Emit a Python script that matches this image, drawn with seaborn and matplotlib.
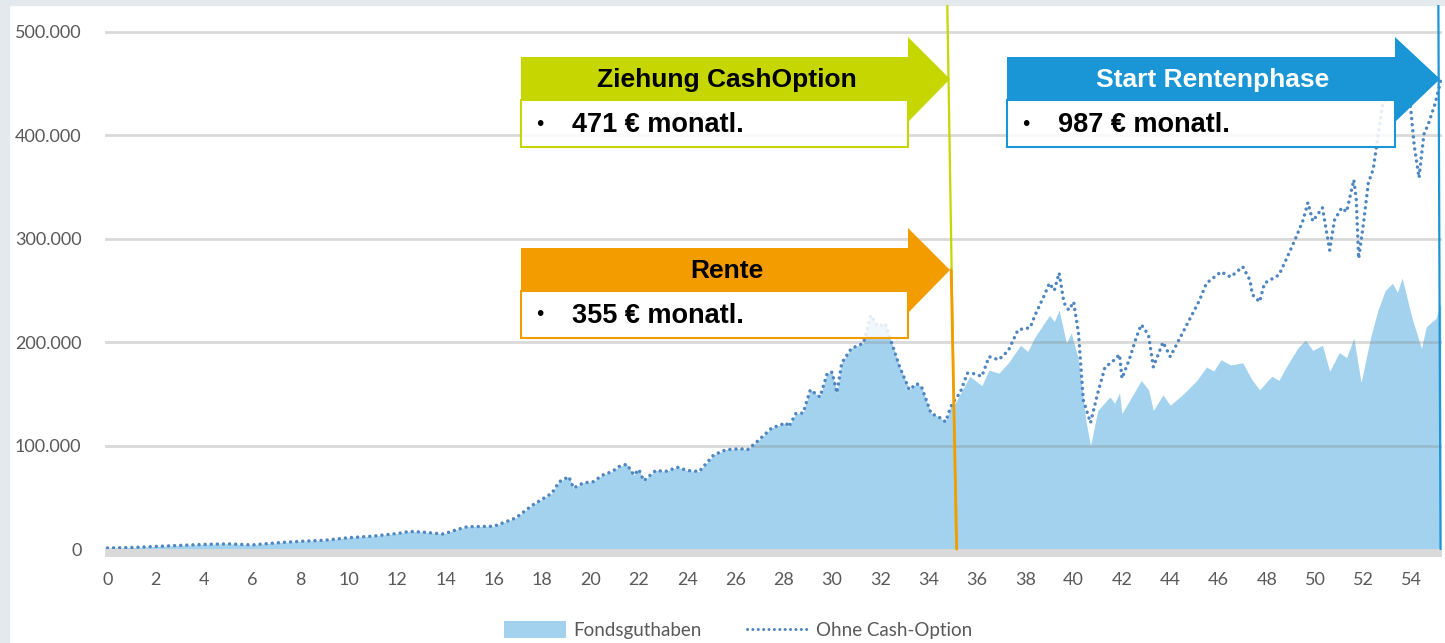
import numpy as np
import pandas as pd
import matplotlib
matplotlib.use("Agg")
import matplotlib.pyplot as plt
import seaborn as sns
from matplotlib.patches import Polygon, Rectangle, Patch
from matplotlib.lines import Line2D

# values in thousand EUR
# up to year 35 both series run together
early_years = [0, 1, 2, 3, 4, 5, 6, 7, 8, 9, 10, 11, 12, 12.5, 13, 13.9, 14.5, 14.9, 16,
               16.9, 17.6, 18.4, 18.7, 19.1, 19.3, 19.7, 20.1, 20.5, 20.9, 21.2, 21.5, 21.8,
               22.0, 22.2, 22.7, 23.1, 23.6, 24.0, 24.5, 25.1, 25.6, 26.2, 26.5, 26.9, 27.5,
               28.1, 28.2, 28.5, 28.8, 29.1, 29.5, 29.8, 30.0, 30.2, 30.4, 30.8, 31.3, 31.6,
               31.9, 32.2, 32.5, 32.8, 33.2, 33.5, 33.7, 34.1, 34.4, 34.7, 34.9]
early_vals = [1, 1.5, 2.5, 3.5, 4.5, 5, 4, 6, 7.5, 8.5, 11, 12.5, 15, 17, 16.5, 14.5, 19, 21.6, 22,
              30, 42.5, 54, 65, 70, 59, 64, 65, 71.5, 75, 80, 82, 71.5,
              77, 66, 76, 75, 79, 76, 75, 91, 96, 97, 96, 104, 117,
              122, 118, 131, 131.5, 154, 147, 170, 171, 151, 180, 194, 199, 226,
              215, 218, 197, 176, 154, 160, 157, 131, 128, 123, 137]

# Fondsguthaben after the cash option
fonds_years = [35.1, 35.3, 35.7, 36.2, 36.5, 36.9, 37.3, 37.8, 38.1, 38.4, 39.0, 39.2, 39.4,
               39.7, 39.9, 40.2, 40.5, 40.7, 41.0, 41.5, 41.7, 41.9, 42.0, 42.4, 42.8, 43.1,
               43.3, 43.7, 44.0, 44.5, 45.1, 45.5, 45.8, 46.1, 46.5, 47.0, 47.4, 47.7, 48.2,
               48.5, 48.8, 49.3, 49.6, 49.9, 50.3, 50.6, 51.0, 51.3, 51.6, 51.9, 52.3, 52.6,
               52.9, 53.2, 53.4, 53.6, 54.0, 54.4, 54.6, 55.0, 55.2]
fonds_vals = [141, 150, 167, 158, 173, 170, 180, 197, 191, 205, 226, 220, 231,
              199, 209, 183, 125, 100, 134, 147, 141, 151, 131, 147, 163, 154,
              134, 149, 139, 149, 163, 176, 172, 183, 178, 180, 163, 154, 167,
              163, 176, 195, 202, 192, 197, 172, 190, 185, 204, 161, 205, 231,
              250, 257, 248, 262, 224, 194, 215, 223, 238]

# Ohne Cash-Option
ohne_years = [35.1, 35.3, 35.6, 35.8, 36.2, 36.5, 36.9, 37.3, 37.7, 38.2, 38.4, 38.8, 39.0,
              39.2, 39.4, 39.6, 39.8, 40.0, 40.2, 40.4, 40.7, 41.0, 41.3, 41.6, 41.9, 42.0,
              42.3, 42.6, 42.8, 43.1, 43.3, 43.7, 44.0, 44.4, 44.8, 45.2, 45.5, 46.1, 46.5,
              47.0, 47.3, 47.4, 47.7, 47.9, 48.5, 48.8, 49.2, 49.5, 49.7, 49.9, 50.3, 50.6,
              50.8, 51.1, 51.3, 51.6, 51.7, 51.8, 52.0, 52.2, 52.4, 52.5, 52.8, 53.2, 53.6,
              53.95, 54.1, 54.3, 54.5, 54.7, 54.97, 55.2]
ohne_vals = [145, 151, 170, 170, 167, 186, 183, 192, 212, 214, 226, 246, 257,
             250, 267, 238, 231, 239, 209, 144, 122, 151, 176, 181, 188, 165,
             183, 205, 217, 207, 176, 200, 186, 204, 222, 240, 257, 268, 263,
             273, 260, 246, 239, 257, 265, 280, 301, 318, 335, 317, 330, 289,
             318, 330, 326, 357, 338, 281, 315, 354, 367, 383, 431, 445, 450,
             427, 390, 359, 401, 412, 431, 453]

y_ticks = [0, 100000, 200000, 300000, 400000, 500000]
y_labels = ["0", "100.000", "200.000", "300.000", "400.000", "500.000"]
x_ticks = list(range(0, 55, 2))

fonds = pd.DataFrame({"Jahr": early_years + fonds_years,
                      "Wert": [v * 1000 for v in early_vals + fonds_vals]})
ohne = pd.DataFrame({"Jahr": early_years + ohne_years,
                     "Wert": [v * 1000 for v in early_vals + ohne_vals]})

sns.set_style("white")
plt.rcParams["font.family"] = ["Lato", "DejaVu Sans"]

W, H = 1445, 643
fig = plt.figure(figsize=(W / 100, H / 100), dpi=100)
fig.patch.set_facecolor("white")
# grey frame bits of the slide
fig.add_artist(Rectangle((0, 0), 9 / W, 1, transform=fig.transFigure, color="#e4e9ed", zorder=0))
fig.add_artist(Rectangle((0, 1 - 5 / H), 1, 5 / H, transform=fig.transFigure, color="#e4e9ed", zorder=0))

ax = fig.add_axes([105 / W, 1 - 557 / H, (1442 - 105) / W, (557 - 5) / H])
ax.set_facecolor("none")

area_color = "#a2d2ee"
dot_color = "#4f86c0"
dots = (0, (0.01, 1.75))

ax.fill_between(fonds["Jahr"], fonds["Wert"], 0, color=area_color, lw=0, zorder=2)
sns.lineplot(data=ohne, x="Jahr", y="Wert", ax=ax, color=dot_color, lw=2.5,
             linestyle=dots, dash_capstyle="round", zorder=3)

ax.set_xlim(-0.1, 55.25)
ax.set_ylim(-7700, 526000)
ax.axhspan(-7700, 0, color="#d9d9d9", lw=0, zorder=4)
for t in y_ticks[1:]:
    ax.axhline(t, color="#8c8c8c", alpha=0.33, lw=2, zorder=2.5)

ax.set_yticks(y_ticks)
ax.set_yticklabels(y_labels)
ax.set_xticks(x_ticks)
ax.tick_params(axis="y", length=0, pad=17, labelsize=13, labelcolor="#595959")
ax.tick_params(axis="x", length=0, pad=11, labelsize=13, labelcolor="#595959")
ax.set_xlabel("")
ax.set_ylabel("")
sns.despine(ax=ax, left=True, bottom=True)

# vertical markers
ax.plot([34.77, 35.14], [526000, 0], color="#c5d600", lw=1.6, zorder=6)
ax.plot([34.93, 35.16], [270000, 0], color="#f39c00", lw=2, zorder=6)
ax.plot([55.1, 55.19], [526000, 0], color="#1a95d6", lw=1.6, zorder=6)

# overlay in pixel coordinates for the arrow boxes
ov = fig.add_axes([0, 0, 1, 1])
ov.set_xlim(0, W)
ov.set_ylim(H, 0)
ov.axis("off")
ov.set_facecolor("none")


def arrow_box(x0, x1, tip, top, color, title, title_color, body):
    bot = top + 43
    pts = [(x0, top), (x1, top), (x1, top - 20), (tip, top + 22), (x1, bot + 22), (x1, bot), (x0, bot)]
    ov.add_patch(Rectangle((x0, bot), x1 - x0, 47, facecolor="white", alpha=0.85,
                           edgecolor="none", zorder=5))
    ov.add_patch(Rectangle((x0, bot), x1 - x0, 47, facecolor="none",
                           edgecolor=color, lw=1.5, zorder=6))
    ov.add_patch(Polygon(pts, closed=True, facecolor=color, edgecolor="none", zorder=6))
    ov.text((x0 + x1) / 2 + 12, top + 23, title, ha="center", va="center", color=title_color,
            fontsize=19, fontweight="bold", family="Liberation Sans", zorder=7)
    ov.text(x0 + 19, bot + 24, "\u2022", ha="center", va="center", color="black",
            fontsize=15, family="Liberation Sans", zorder=7)
    ov.text(x0 + 51, bot + 25, body, ha="left", va="center", color="black",
            fontsize=19.5, fontweight="bold", family="Liberation Sans", zorder=7)


arrow_box(521, 908, 950, 57, "#c5d600", "Ziehung CashOption", "black", "471 € monatl.")
arrow_box(521, 908, 950, 248, "#f39c00", "Rente", "black", "355 € monatl.")
arrow_box(1007, 1395, 1440, 57, "#1a95d6", "Start Rentenphase", "white", "987 € monatl.")

handles = [Patch(facecolor=area_color, edgecolor="none"),
           Line2D([0], [0], color=dot_color, lw=2.2, linestyle=dots, dash_capstyle="round")]
fig.legend(handles, ["Fondsguthaben", "Ohne Cash-Option"], loc="center",
           bbox_to_anchor=(738 / W, 1 - 630 / H), ncol=2, frameon=False,
           fontsize=13.5, labelcolor="#595959", handlelength=3.3, handleheight=1.0,
           columnspacing=2.4, handletextpad=0.4)

fig.savefig("out.png", dpi=100)
